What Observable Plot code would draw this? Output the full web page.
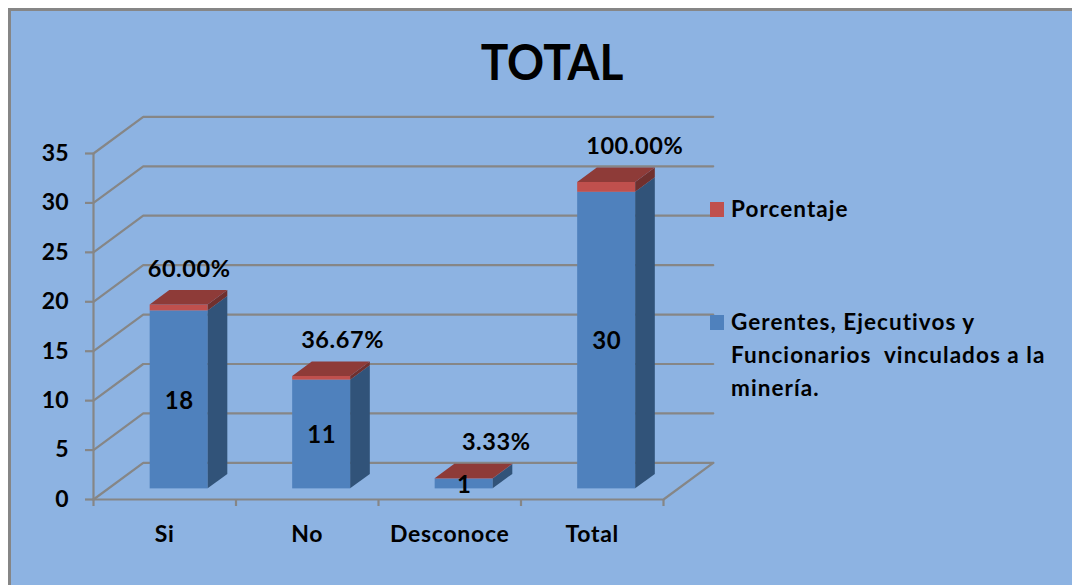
<!DOCTYPE html>
<html lang="es">
<head>
<meta charset="utf-8">
<script src="https://cdn.jsdelivr.net/npm/d3@7"></script>
<script src="https://cdn.jsdelivr.net/npm/@observablehq/plot@0.6"></script>
<style>
  html, body { margin: 0; padding: 0; background: #fff; overflow: hidden; }
  body { width: 1072px; height: 585px; position: relative; font-family: Lato, "Open Sans", sans-serif; color: #000; }
  #frame { position: absolute; left: 8px; top: 8px; width: 1064px; height: 577px; box-sizing: border-box;
           background: #8db3e2; border-left: 3px solid #868686; border-top: 3px solid #868686; }
  #title { position: absolute; left: 452px; width: 200px; top: 37px; margin: 0; text-align: center; font-size: 46px; font-weight: 700;
           line-height: 50px; transform: scaleY(1.08); }
  #spacer { height: 100px; }
  #chart { position: relative; height: 485px; }
  #chart svg { display: block; overflow: visible; background: transparent; }
  #chart svg text { letter-spacing: 0.6px; }
  #chart svg g[aria-label="x-axis tick label"] text { letter-spacing: 0.7px; }
  #chart svg g[aria-label="y-axis tick label"] text { letter-spacing: 0; }
  .swatch { position: absolute; left: 710px; width: 14px; height: 15px; }
  .legend { position: absolute; left: 731px; font-size: 22.5px; font-weight: 700; line-height: 33px; white-space: pre; letter-spacing: 1.05px; }
</style>
</head>
<body>
<div id="frame"></div>
<h1 id="title">TOTAL</h1>
<div id="spacer"></div>
<div id="chart"></div>
<div class="swatch" style="top:202px;background:#c0504d"></div>
<div class="legend" style="top:192px">Porcentaje</div>
<div class="swatch" style="top:315px;background:#4f81bd"></div>
<div class="legend" style="top:305px">Gerentes, Ejecutivos y
Funcionarios  vinculados a la
minería.</div>
<script>
const categories = ["Si", "No", "Desconoce", "Total"];
const gerentes = [18, 11, 1, 30];
const porcentaje = [0.6, 0.3667, 0.0333, 1];
const porcentajeLabels = ["60.00%", "36.67%", "3.33%", "100.00%"];
const yTicks = [0, 5, 10, 15, 20, 25, 30, 35];
const xEdges = [0, 1, 2, 3, 4];

// Oblique projection of the 3-D chart: depth d (0 front, 1 back) shifts x and y.
const depthX = 0.349, depthY = 3.707;
const px = (i, d) => i + d * depthX;
const py = (v, d) => v + d * depthY;
const barHalf = 0.2035, d0 = 0.29, d1 = 0.685;
// manual nudge of the percentage labels, in category units
const pctShift = [0.07, 0.147, 0.225, 0.197];

const grid = [];
yTicks.forEach(v => {
  grid.push({k: v, x: 0, y: py(v, 0)}, {k: v, x: px(0, 1), y: py(v, 1)}, {k: v, x: px(4, 1), y: py(v, 1)});
});
const floorEdge = [{x: 0, y: 0}, {x: 4, y: 0}, {x: px(4, 1), y: py(0, 1)}];

const fronts = [], faces = [];
categories.forEach((c, i) => {
  const l = i + 0.5 - barHalf, r = i + 0.5 + barHalf;
  const v = gerentes[i], t = v + porcentaje[i];
  const quad = (id, fill, xa, xb, ya, yb) => [d0, d1].forEach(d =>
    faces.push({id: i + id, fill, x1: px(xa, d), x2: px(xb, d), y1: py(ya, d), y2: py(yb, d)}));
  fronts.push({x1: px(l, d0), x2: px(r, d0), y1: py(0, d0), y2: py(v, d0), fill: "#4f81bd"});
  fronts.push({x1: px(l, d0), x2: px(r, d0), y1: py(v, d0), y2: py(t, d0), fill: "#c0504d"});
  quad("side-blue", "#315379", r, r, 0, v);
  quad("side-red", "#70302e", r, r, v, t);
  quad("top", "#8e3b38", l, r, t, t);
});

const rows = categories.map((c, i) => ({
  c, i, v: gerentes[i], t: gerentes[i] + porcentaje[i], p: porcentajeLabels[i]
}));

const gridColor = "#868686";
const plot = Plot.plot({
  width: 1072,
  height: 485,
  marginLeft: 93,
  marginRight: 409,
  marginTop: 53,
  marginBottom: 86,
  x: {domain: [0, 4], axis: null},
  y: {domain: [0, 35], axis: null},
  style: {fontFamily: "Lato, 'Open Sans', sans-serif", fontWeight: 700, background: "transparent", color: "#000"},
  marks: [
    Plot.line(grid, {x: "x", y: "y", z: "k", stroke: gridColor, strokeWidth: 2.2}),
    Plot.line(floorEdge, {x: "x", y: "y", stroke: gridColor, strokeWidth: 2.2}),
    Plot.ruleX([0], {y1: 0, y2: 35, stroke: gridColor, strokeWidth: 2.2}),
    Plot.axisY({ticks: yTicks, tickSize: 8, tickPadding: 17, fontSize: 23, label: null, stroke: gridColor, strokeWidth: 2.2, fill: "#000"}),
    Plot.axisX({ticks: xEdges, tickSize: 7, tickFormat: () => "", label: null, stroke: gridColor, strokeWidth: 2.2}),
    Plot.axisX({ticks: categories.map((c, i) => i + 0.5), tickSize: 0, tickPadding: 26, fontSize: 23, label: null,
      tickFormat: d => categories[d - 0.5], fill: "#000"}),
    Plot.rect(fronts, {x1: "x1", x2: "x2", y1: "y1", y2: "y2", fill: "fill"}),
    Plot.area(faces, {x1: "x1", x2: "x2", y1: "y1", y2: "y2", z: "id", fill: "fill"}),
    Plot.text(rows, {x: d => px(d.i + 0.5, d0), y: d => py(d.v / 2, d0), dy: 1, text: d => String(d.v), fontSize: 24, fill: "#000"}),
    Plot.text(rows, {x: d => px(d.i + 0.5, d0) + pctShift[d.i], y: d => py(d.t, d0), dy: -36, text: "p", fontSize: 23.5, fill: "#000"})
  ]
});
document.getElementById("chart").append(plot);
</script>
</body>
</html>
